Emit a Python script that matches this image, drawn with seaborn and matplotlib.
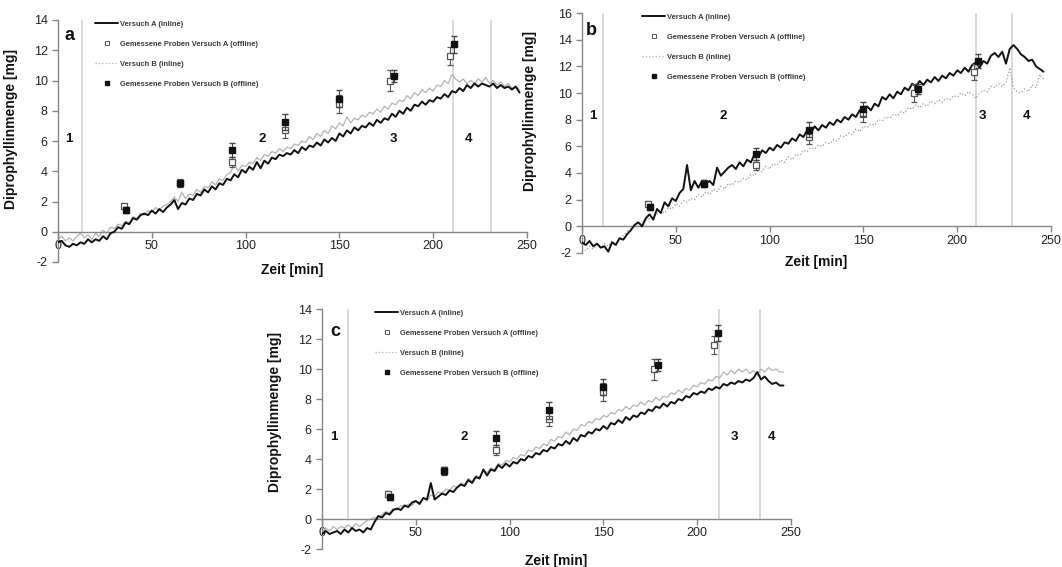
import numpy as np
import matplotlib
matplotlib.use("Agg")
import matplotlib.pyplot as plt
import seaborn as sns
from matplotlib.lines import Line2D

# --------------------------
# Data
# --------------------------
zeit = np.arange(0, 248, 2)  # inline sampling grid [min]

# panel a
a_versuch_a = [
    -0.7, -0.6, -0.9, -1.0, -0.8, -0.9, -0.7, -0.8, -0.5, -0.7,
    -0.5, -0.6, -0.3, -0.5, -0.1, 0.0, 0.3, 0.2, 0.6, 0.5,
    0.9, 0.8, 1.1, 1.2, 1.1, 1.4, 1.2, 1.5, 1.3, 1.6,
    1.8, 2.1, 1.5, 1.9, 1.8, 2.2, 2.1, 2.5, 2.4, 2.8,
    2.6, 3.0, 2.8, 3.2, 3.1, 3.5, 3.4, 3.8, 3.6, 4.1,
    3.9, 4.3, 4.1, 4.6, 4.2, 4.7, 4.5, 4.9, 4.8, 5.1,
    5.0, 5.2, 5.1, 5.4, 5.2, 5.6, 5.4, 5.7, 5.6, 5.9,
    5.7, 6.1, 5.9, 6.2, 6.0, 6.5, 6.3, 6.7, 6.5, 6.9,
    6.7, 7.0, 6.9, 7.2, 7.0, 7.4, 7.2, 7.5, 7.4, 7.8,
    7.6, 8.0, 7.8, 8.2, 8.0, 8.4, 8.3, 8.6, 8.4, 8.7,
    8.6, 8.9, 8.8, 9.1, 8.9, 9.3, 9.2, 9.5, 9.3, 9.7,
    9.5, 9.8, 9.6, 9.8, 9.7, 9.6, 9.8, 9.5, 9.7, 9.5,
    9.6, 9.4, 9.6, 9.2,
]
a_versuch_b = [
    -0.5, -0.3, -0.6, -0.4, -0.6, -0.3, -0.1, -0.4, -0.2, -0.5,
    -0.1, -0.3, 0.1, -0.1, 0.3, 0.2, 0.5, 0.4, 0.7, 0.6,
    1.0, 0.9, 1.2, 1.1, 1.4, 1.3, 1.6, 1.4, 1.7, 1.8,
    2.0, 2.3, 2.0, 2.6, 2.2, 2.5, 2.4, 2.8, 2.6, 3.0,
    2.9, 3.3, 3.1, 3.5, 3.4, 3.8, 3.9, 4.5, 4.0, 4.4,
    4.3, 4.6, 4.5, 4.9, 4.7, 5.1, 5.0, 5.3, 5.2, 5.5,
    5.3, 5.6, 5.5, 5.8, 5.7, 6.0, 5.9, 6.3, 6.1, 6.5,
    6.3, 6.7, 6.5, 7.0, 6.8, 7.2, 7.0, 7.6, 7.2, 7.5,
    7.4, 7.7, 7.6, 7.9, 7.8, 8.1, 7.9, 8.3, 8.1, 8.5,
    8.4, 8.7, 8.6, 9.0, 8.8, 9.2, 9.0, 9.4, 9.2, 9.5,
    9.3, 9.7, 9.6, 10.0, 9.8, 10.4, 10.1, 9.9, 10.1, 9.8,
    10.0, 9.8, 10.1, 9.9, 10.2, 9.8, 10.0, 9.7, 9.9, 9.6,
    9.8, 9.5, 9.6, 9.4,
]

# panel b
b_versuch_a = [
    -1.2, -1.4, -1.1, -1.5, -1.3, -1.6, -1.5, -1.9, -1.2, -1.4,
    -0.9, -1.0, -0.6, -0.3, 0.1, 0.3, 0.0, 0.6, 0.9, 0.5,
    1.3, 1.0, 1.8, 1.5, 2.1, 1.9, 2.5, 2.8, 4.6, 2.7,
    3.4, 2.9, 3.4, 3.2, 3.4, 3.1, 4.4, 3.8, 4.1, 4.4,
    4.6, 4.3, 4.8, 4.5, 5.0, 4.8, 5.4, 5.2, 5.7, 5.5,
    5.9, 5.7, 6.1, 5.9, 6.3, 6.2, 6.6, 6.4, 6.9, 6.7,
    7.2, 7.0, 7.5, 7.2, 7.6, 7.4, 7.8, 7.6, 8.0, 7.8,
    8.2, 8.0, 8.4, 8.2, 8.7, 8.6, 9.0, 8.7, 9.2, 9.0,
    9.7, 9.5, 9.9, 9.6, 10.1, 9.9, 10.4, 10.2, 10.7, 10.5,
    10.9, 10.6, 11.0, 10.8, 11.2, 10.9, 11.3, 11.1, 11.5, 11.3,
    11.7, 11.5, 11.9, 11.6, 12.1, 12.3, 11.9, 12.4, 12.2, 12.8,
    13.0, 12.7, 13.1, 12.2, 13.3, 13.6, 13.3, 12.9, 12.7, 12.4,
    12.5, 12.0, 11.8, 11.6,
]
b_versuch_b = [
    -1.6, -1.8, -1.5, -1.7, -1.4, -1.6, -1.3, -1.5, -1.1, -1.3,
    -0.9, -0.7, -0.4, -0.2, 0.1, 0.0, 0.3, 0.5, 0.6, 0.8,
    0.9, 1.1, 1.0, 1.4, 1.3, 1.7, 1.5, 1.9, 1.8, 2.1,
    2.0, 2.4, 2.2, 2.6, 2.4, 2.8, 2.6, 3.0, 2.8, 3.2,
    3.1, 3.4, 3.3, 3.6, 3.5, 3.9, 3.8, 4.3, 4.1, 4.5,
    4.3, 4.7, 4.6, 5.0, 4.8, 5.2, 5.0, 5.4, 5.3, 5.7,
    5.6, 5.9, 5.8, 6.1, 6.0, 6.3, 6.2, 6.5, 6.4, 6.8,
    6.7, 7.0, 6.9, 7.3, 7.1, 7.5, 7.4, 7.7, 7.6, 8.0,
    7.9, 8.2, 8.1, 8.4, 8.3, 8.6, 8.5, 8.9, 8.8, 9.1,
    8.9, 9.2, 9.0, 9.4, 9.2, 9.5, 9.3, 9.6, 9.5, 9.8,
    9.7, 10.0, 9.8, 10.1, 9.9, 9.6, 10.0, 10.2, 10.1, 10.5,
    10.4, 10.7, 10.5, 10.8, 11.9, 10.4, 10.1, 10.0, 10.3, 10.1,
    10.6, 10.4, 11.4, 11.0,
]

# panel c
c_versuch_a = [
    -1.0, -0.8, -1.0, -0.9, -0.8, -1.0, -0.7, -0.9, -0.6, -0.8,
    -0.7, -0.9, -0.6, -0.7, -0.2, 0.2, 0.1, 0.4, 0.3, 0.6,
    0.7, 0.6, 0.9, 0.8, 1.1, 1.2, 1.0, 1.4, 1.3, 2.4,
    1.3, 1.5, 1.7, 1.6, 1.9, 1.8, 2.1, 2.3, 2.2, 2.6,
    2.4, 2.8, 2.7, 3.3, 2.9, 3.3, 3.2, 3.6, 3.4, 3.7,
    3.5, 3.8, 3.7, 4.0, 3.9, 4.2, 4.1, 4.4, 4.3, 4.6,
    4.5, 4.8, 4.7, 5.0, 4.9, 5.2, 5.0, 5.4, 5.2, 5.6,
    5.5, 5.8, 5.7, 6.0, 5.9, 6.2, 6.0, 6.4, 6.3, 6.6,
    6.4, 6.8, 6.6, 6.9, 6.8, 7.1, 7.0, 7.3, 7.2, 7.5,
    7.4, 7.7, 7.5, 7.8, 7.7, 8.0, 7.9, 8.2, 8.1, 8.4,
    8.3, 8.5, 8.4, 8.7, 8.6, 8.8, 8.7, 9.0, 8.9, 9.1,
    9.0, 9.2, 9.1, 9.3, 9.2, 9.4, 9.8, 9.3, 9.5, 9.2,
    9.0, 9.1, 8.9, 8.9,
]
c_versuch_b = [
    -0.9, -0.6, -0.8, -0.5, -0.7, -0.5, -0.6, -0.4, -0.6, -0.3,
    -0.5, -0.3, -0.1, 0.0, 0.1, 0.0, 0.3, 0.5, 0.4, 0.7,
    0.6, 0.9, 0.8, 1.0, 0.9, 1.2, 1.1, 1.4, 1.2, 1.6,
    1.5, 1.8, 1.7, 2.0, 1.9, 2.2, 2.1, 2.4, 2.3, 2.7,
    2.5, 2.9, 2.8, 3.2, 3.1, 3.4, 3.3, 3.7, 3.6, 3.9,
    3.8, 4.1, 4.0, 4.3, 4.2, 4.6, 4.5, 4.8, 4.7, 5.0,
    4.9, 5.3, 5.2, 5.5, 5.4, 5.8, 5.6, 6.0, 5.9, 6.3,
    6.2, 6.5, 6.4, 6.7, 6.6, 6.9, 6.8, 7.1, 7.0, 7.3,
    7.2, 7.5, 7.3, 7.6, 7.5, 7.8, 7.6, 7.9, 7.8, 8.1,
    7.9, 8.2, 8.1, 8.4, 8.3, 8.6, 8.4, 8.7, 8.6, 8.9,
    8.8, 9.1, 9.0, 9.3, 9.2, 9.5, 9.4, 9.8, 9.6, 9.9,
    9.7, 10.0, 9.8, 10.0, 9.7, 9.9, 9.6, 10.0, 9.8, 10.1,
    9.9, 10.0, 9.8, 9.8,
]

# offline samples (same in all panels)
probe_zeit_a = [35, 65, 93, 121, 150, 177, 209]
probe_zeit_b = [36, 65, 93, 121, 150, 179, 211]
probe_a = [1.7, 3.25, 4.6, 6.7, 8.45, 10.0, 11.6]
probe_a_err = [0.2, 0.25, 0.35, 0.5, 0.6, 0.7, 0.6]
probe_b = [1.45, 3.2, 5.4, 7.25, 8.8, 10.3, 12.4]
probe_b_err = [0.2, 0.25, 0.45, 0.55, 0.55, 0.4, 0.55]

phase_labels = ["1", "2", "3", "4"]
legend_labels = ["Versuch A (inline)", "Gemessene Proben Versuch A (offline)",
                 "Versuch B (inline)", "Gemessene Proben Versuch B (offline)"]

# --------------------------
# Style
# --------------------------
sns.set_theme(style="white")
plt.rcParams['font.family'] = ['Liberation Sans', 'DejaVu Sans']
plt.rcParams['axes.unicode_minus'] = False

AXIS_GREY = "#868686"
PHASE_GREY = "#cfcfcf"
B_GREY = "#b3b3b3"


def draw_panel(ax, letter, ya, yb, ymax, phase_lines, phase_x, phase_y,
               letter_xy, leg_anchor, ylabel_xy, xlabel_y, b_dotted=False):
    ax.set_xlim(0, 250)
    ax.set_ylim(-2, ymax)

    for x in phase_lines:
        ax.vlines(x, 0, ymax, color=PHASE_GREY, lw=1.1, zorder=1)

    b_ls = ":" if b_dotted else "-"
    b_col = "#9a9a9a" if b_dotted else B_GREY
    sns.lineplot(x=zeit, y=yb, ax=ax, color=b_col, lw=0.9, linestyle=b_ls,
                 estimator=None, sort=False, zorder=2)
    sns.lineplot(x=zeit, y=ya, ax=ax, color="#111111", lw=1.4,
                 estimator=None, sort=False, zorder=3)

    ax.errorbar(probe_zeit_a, probe_a, yerr=probe_a_err, fmt="s", ms=4.5,
                mfc="white", mec="#555555", mew=0.9, ecolor="#555555",
                elinewidth=0.8, capsize=2, zorder=4)
    ax.errorbar(probe_zeit_b, probe_b, yerr=probe_b_err, fmt="s", ms=4.5,
                mfc="#111111", mec="#111111", ecolor="#444444",
                elinewidth=0.8, capsize=2, zorder=5)

    # axes look
    for s in ["top", "right"]:
        ax.spines[s].set_visible(False)
    ax.spines["bottom"].set_position(("data", 0))
    ax.spines["bottom"].set_color(AXIS_GREY)
    ax.spines["left"].set_color(AXIS_GREY)
    ax.spines["bottom"].set_linewidth(1.0)
    ax.spines["left"].set_linewidth(1.0)
    ax.set_xticks(range(0, 251, 50))
    ax.set_yticks(range(-2, ymax + 1, 2))
    ax.tick_params(axis="both", direction="out", length=4, width=1,
                   color=AXIS_GREY, labelsize=9, labelcolor="#222222",
                   left=True, bottom=True)
    ax.tick_params(axis="x", pad=2)

    ax.set_xlabel("Zeit [min]", fontsize=10, fontweight="bold", color="#111111")
    ax.set_ylabel("Diprophyllinmenge [mg]", fontsize=10, fontweight="bold",
                  color="#111111")
    ax.xaxis.set_label_coords(0.5, xlabel_y)
    ax.yaxis.set_label_coords(*ylabel_xy)

    ax.text(letter_xy[0], letter_xy[1], letter, fontsize=13, fontweight="bold",
            ha="center", va="center", color="#111111")
    for lab, px in zip(phase_labels, phase_x):
        ax.text(px, phase_y, lab, fontsize=9.5, fontweight="bold",
                ha="center", va="center", color="#111111")

    handles = [
        Line2D([], [], color="#111111", lw=1.4),
        Line2D([], [], marker="s", ls="none", ms=3.2, mfc="white",
               mec="#555555", mew=0.7),
        Line2D([], [], color=B_GREY, lw=0.9, ls=":"),
        Line2D([], [], marker="s", ls="none", ms=3.2, mfc="#111111",
               mec="#111111"),
    ]
    ax.legend(handles, legend_labels, loc="upper left", bbox_to_anchor=leg_anchor,
              frameon=False, prop={"size": 5.4, "weight": "bold"},
              labelcolor="#3a3a3a", labelspacing=1.7, handlelength=3.1,
              handletextpad=0.25, borderpad=0, borderaxespad=0)


fig = plt.figure(figsize=(10.62, 5.67), dpi=100)
ax_a = fig.add_axes([58 / 1062, 1 - 262 / 567, 469 / 1062, 242 / 567])
ax_b = fig.add_axes([582 / 1062, 1 - 253 / 567, 469 / 1062, 240 / 567])
ax_c = fig.add_axes([322 / 1062, 1 - 549 / 567, 469 / 1062, 240 / 567])

draw_panel(ax_a, "a", a_versuch_a, a_versuch_b, 14,
           phase_lines=[13, 210.5, 231], phase_x=[5.5, 109, 179, 219],
           phase_y=6.1, letter_xy=(6.3, 13.0), leg_anchor=(0.079, 0.997),
           ylabel_xy=(-0.085, 0.55), xlabel_y=-0.005)
draw_panel(ax_b, "b", b_versuch_a, b_versuch_b, 16,
           phase_lines=[11, 210, 229], phase_x=[6, 75, 213.5, 237],
           phase_y=8.3, letter_xy=(5.2, 14.7), leg_anchor=(0.128, 0.998),
           ylabel_xy=(-0.095, 0.59), xlabel_y=-0.01, b_dotted=True)
draw_panel(ax_c, "c", c_versuch_a, c_versuch_b, 14,
           phase_lines=[13.7, 211.5, 233.5], phase_x=[6.4, 75.6, 219.6, 239.7],
           phase_y=5.5, letter_xy=(6.9, 12.5), leg_anchor=(0.113, 0.998),
           ylabel_xy=(-0.085, 0.57), xlabel_y=-0.02)

fig.savefig("out.png", dpi=100)
